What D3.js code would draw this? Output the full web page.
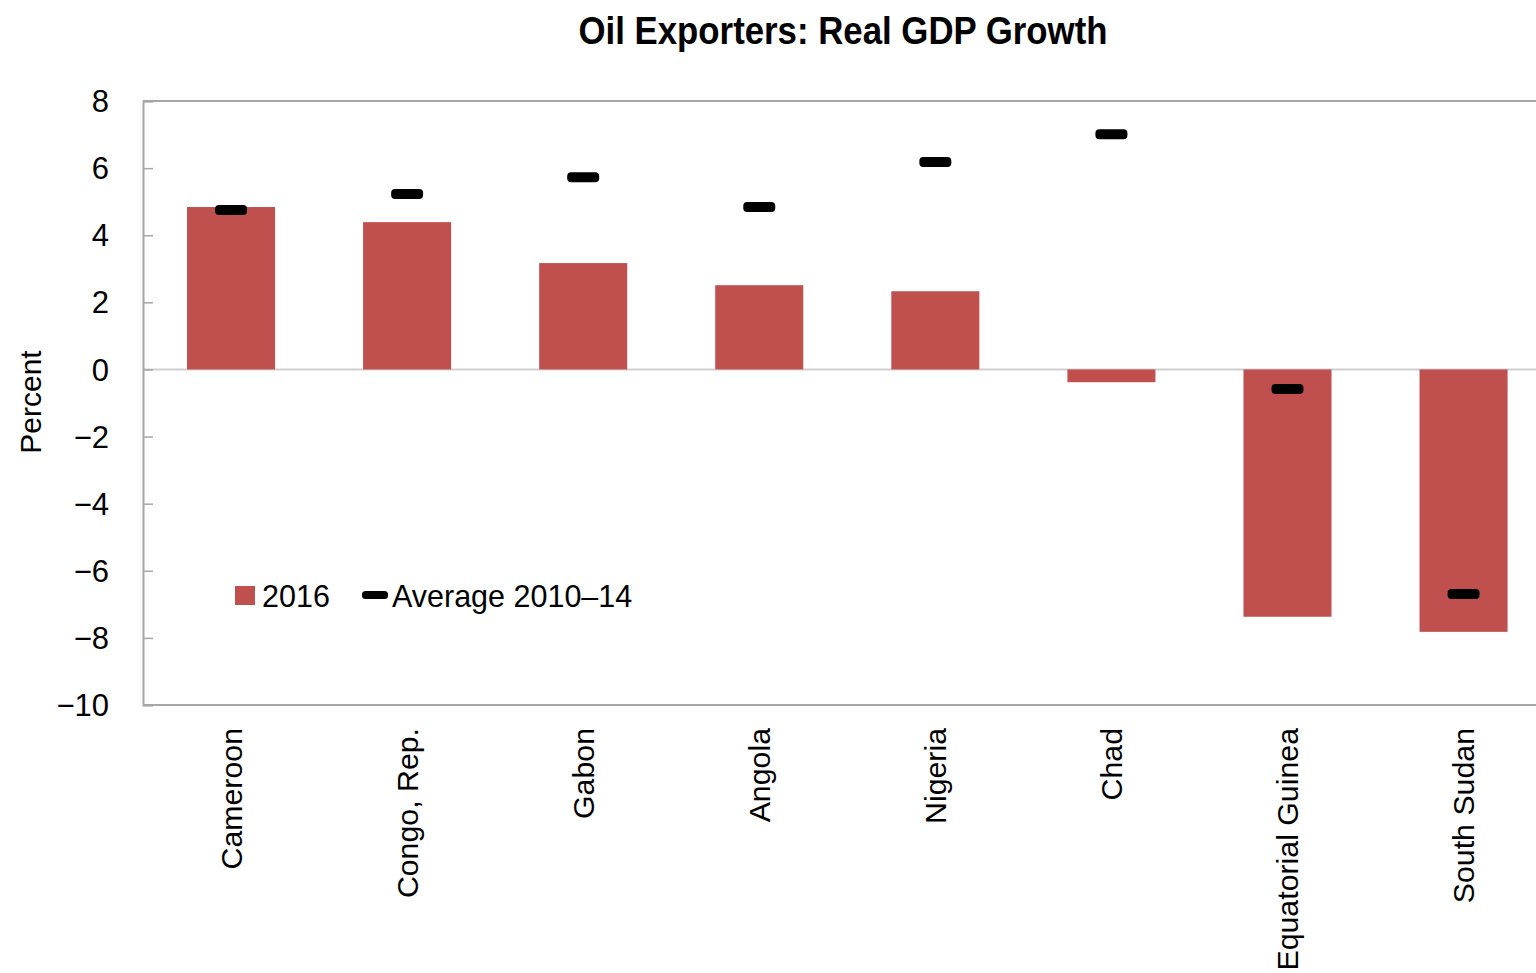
<!DOCTYPE html>
<html>
<head>
<meta charset="utf-8">
<script src="https://cdn.jsdelivr.net/npm/d3@7"></script>
<style>
  html, body { margin: 0; padding: 0; background: #fff; overflow: hidden; }
  svg { display: block; }
  text { font-family: "Liberation Sans Narrow", "Arial Narrow", "Liberation Sans", Arial, sans-serif; fill: #000; }
</style>
</head>
<body>
<svg id="chart" width="1536" height="973"></svg>
<script>
const categories = ["Cameroon", "Congo, Rep.", "Gabon", "Angola", "Nigeria", "Chad", "Equatorial Guinea", "South Sudan"];
const values2016 = [4.84, 4.39, 3.17, 2.51, 2.33, -0.38, -7.37, -7.82];
const average2010_14 = [4.75, 5.23, 5.73, 4.84, 6.18, 7.01, -0.58, -6.69];
const yTicks = [8, 6, 4, 2, 0, -2, -4, -6, -8, -10];
const titleText = "Oil Exporters: Real GDP Growth";
const yLabel = "Percent";
const legendLabels = ["2016", "Average 2010\u201314"];

const svg = d3.select("#chart");
const pLeft = 143, pRight = 1551.6, pTop = 101, pBottom = 705;

const x = d3.scaleBand().domain(categories).range([pLeft, pRight]).paddingInner(0.5).paddingOuter(0.25);
const y = d3.scaleLinear().domain([-10, 8]).range([pBottom, pTop]);

const fmt = d => (d < 0 ? "\u2212" + Math.abs(d) : String(d));

// frame (top + bottom)
svg.append("line").attr("x1", pLeft).attr("x2", 1536).attr("y1", pTop).attr("y2", pTop)
  .attr("stroke", "#a6a6a6").attr("stroke-width", 2);
svg.append("line").attr("x1", pLeft).attr("x2", 1536).attr("y1", pBottom).attr("y2", pBottom)
  .attr("stroke", "#a6a6a6").attr("stroke-width", 2);

// zero line
svg.append("line").attr("x1", pLeft).attr("x2", 1536).attr("y1", y(0)).attr("y2", y(0))
  .attr("stroke", "#d0d0d0").attr("stroke-width", 2);

// y axis
const yAxis = d3.axisRight(y).tickValues(yTicks).tickSize(10).tickFormat("");
const ga = svg.append("g").attr("transform", `translate(${pLeft},0)`).call(yAxis);
ga.select(".domain").attr("stroke", "#a6a6a6").attr("stroke-width", 2);
ga.selectAll(".tick line").attr("stroke", "#a6a6a6").attr("stroke-width", 1.5);

svg.append("g").selectAll("text").data(yTicks).join("text")
  .attr("x", 109).attr("y", d => y(d)).attr("dy", "0.36em")
  .attr("text-anchor", "end").attr("font-size", 31).text(fmt);

// bars
svg.append("g").selectAll("rect").data(categories).join("rect")
  .attr("x", d => x(d))
  .attr("width", x.bandwidth())
  .attr("y", (d, i) => y(Math.max(0, values2016[i])))
  .attr("height", (d, i) => Math.abs(y(values2016[i]) - y(0)))
  .attr("fill", "#c0504d");

// average markers
const mw = 32, mh = 10;
svg.append("g").selectAll("rect").data(categories).join("rect")
  .attr("x", d => x(d) + x.bandwidth() / 2 - mw / 2)
  .attr("y", (d, i) => y(average2010_14[i]) - mh / 2)
  .attr("width", mw).attr("height", mh).attr("rx", 4)
  .attr("fill", "#000");

// category labels
svg.append("g").selectAll("text").data(categories).join("text")
  .attr("transform", d => `translate(${x(d) + x.bandwidth() / 2},728) rotate(-90)`)
  .attr("dy", "0.36em").attr("text-anchor", "end").attr("font-size", 30.3)
  .text(d => d);

// y label
svg.append("text").attr("transform", "translate(30,402) rotate(-90)")
  .attr("dy", "0.36em").attr("text-anchor", "middle").attr("font-size", 30).text(yLabel);

// title
svg.append("text").attr("x", 843).attr("y", 44).attr("text-anchor", "middle")
  .attr("font-size", 38).attr("font-weight", "bold")
  .attr("textLength", 529).attr("lengthAdjust", "spacingAndGlyphs").text(titleText);

// legend
svg.append("rect").attr("x", 235).attr("y", 586).attr("width", 20).attr("height", 19).attr("fill", "#c0504d");
svg.append("text").attr("x", 262).attr("y", 596).attr("dy", "0.36em").attr("font-size", 30.5).text(legendLabels[0]);
svg.append("rect").attr("x", 362).attr("y", 591).attr("width", 26).attr("height", 8).attr("rx", 3.5).attr("fill", "#000");
svg.append("text").attr("x", 392).attr("y", 596).attr("dy", "0.36em").attr("font-size", 30.5).text(legendLabels[1]);
</script>
</body>
</html>
